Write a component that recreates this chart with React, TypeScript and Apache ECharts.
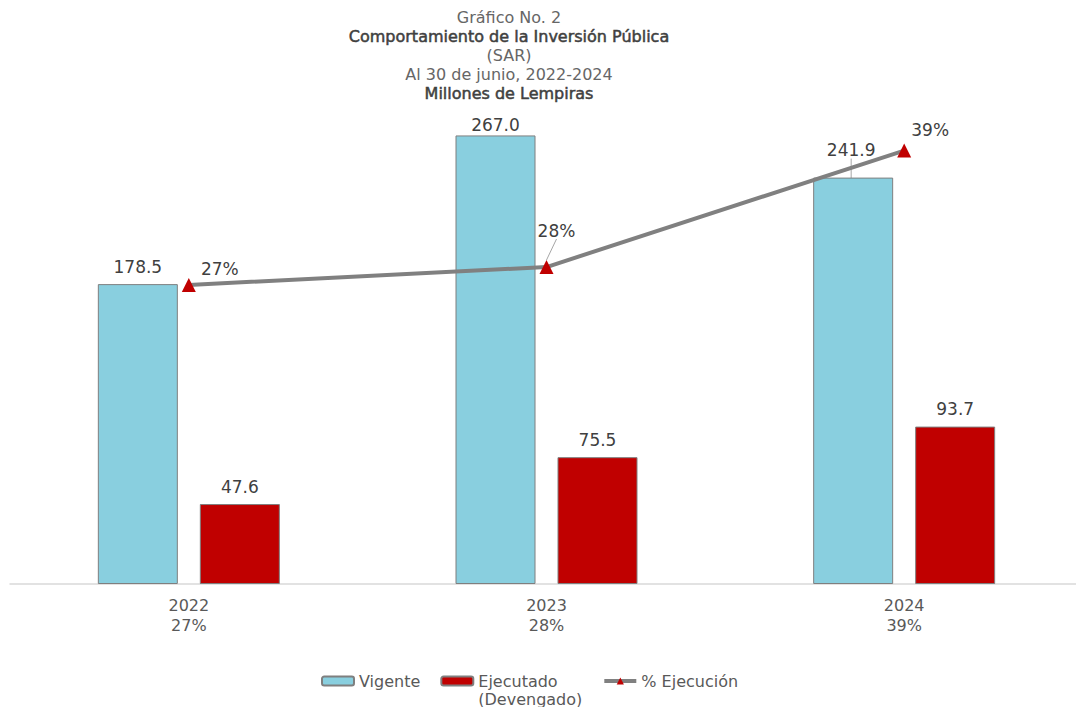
import React, { useEffect, useRef } from "react";
import * as echarts from "echarts";

const years = ["2022", "2023", "2024"];
const vigente = [178.5, 267.0, 241.9];
const ejecutado = [47.6, 75.5, 93.7];
const ejecucionPct = [26.7, 28.3, 38.7];

const FONT = "'DejaVu Sans', 'Noto Sans', sans-serif";
const EJEC_NAME = "Ejecutado\n(Devengado)";

export default function App() {
  const ref = useRef<HTMLDivElement>(null);
  useEffect(() => {
    if (!ref.current) return;
    const chart = echarts.init(ref.current, undefined, { renderer: "svg" });
    const pctText = (v: number) => Math.round(v) + "%";
    const vigMoves = [
      { dx: 0, dy: 0 },
      { dx: 0, dy: 7 },
      { dx: -2, dy: -10 },
    ];
    const vigGuide = [false, false, true];
    const pctMoves = [
      { dx: 31, dy: 5 },
      { dx: 10, dy: -16 },
      { dx: 26, dy: 0 },
    ];
    const pctGuide = [false, true, false];
    const guideStyle = { color: "#A6A6A6", width: 1 };
    chart.setOption({
      animation: false,
      textStyle: { fontFamily: FONT },
      title: {
        left: 504,
        top: 3,
        textAlign: "center",
        text:
          "{a|Gráfico No. 2}\n{b|Comportamiento de la Inversión Pública}\n{a|(SAR)}\n{a|Al 30 de junio, 2022-2024}\n{b|Millones de Lempiras}",
        textStyle: {
          fontWeight: "normal",
          rich: {
            a: { fontSize: 16, color: "#666666", fontWeight: "normal", lineHeight: 19, fontFamily: FONT },
            b: {
              fontSize: 16,
              color: "#404040",
              fontWeight: "normal",
              lineHeight: 19,
              fontFamily: FONT,
              textBorderColor: "#404040",
              textBorderWidth: 0.5,
            },
          },
        },
      },
      grid: { left: 10, right: 0, top: 80, bottom: 123 },
      legend: {
        left: 316,
        top: 649,
        itemWidth: 32,
        itemHeight: 9,
        itemGap: 20,
        textStyle: { fontSize: 16, color: "#595959", fontFamily: FONT, lineHeight: 18 },
        formatter: (name: string) => (name === EJEC_NAME ? "\u00a0\n" + name : name),
        data: [
          { name: "Vigente" },
          { name: EJEC_NAME },
          { name: "% Ejecución", lineStyle: { width: 4 } },
        ],
      },
      xAxis: {
        type: "category",
        data: years,
        axisLine: { lineStyle: { color: "#D9D9D9", width: 1.5 } },
        axisTick: { show: false },
        axisLabel: {
          margin: 11,
          fontSize: 16,
          lineHeight: 20,
          color: "#595959",
          formatter: (v: string, i: number) => v + "\n" + pctText(ejecucionPct[i]),
        },
      },
      yAxis: [
        { type: "value", min: 0, max: 300, show: false },
        { type: "value", min: 0, max: 45, show: false },
      ],
      series: [
        {
          name: "Vigente",
          type: "bar",
          barWidth: 80,
          barGap: "27.5%",
          itemStyle: { color: "#89CFDF", borderColor: "#7F7F7F", borderWidth: 1 },
          label: {
            show: true,
            position: "top",
            distance: 9,
            fontSize: 17,
            color: "#404040",
            formatter: (p: any) => p.value.toFixed(1),
          },
          labelLine: { show: false, lineStyle: guideStyle },
          labelLayout: (p: any) => vigMoves[p.dataIndex],
          data: vigente.map((v, i) => ({
            value: v,
            labelLine: { show: vigGuide[i], lineStyle: guideStyle },
          })),
        },
        {
          name: EJEC_NAME,
          type: "bar",
          barWidth: 80,
          itemStyle: { color: "#C00000", borderColor: "#7F7F7F", borderWidth: 1 },
          label: {
            show: true,
            position: "top",
            distance: 9,
            fontSize: 17,
            color: "#404040",
            formatter: (p: any) => p.value.toFixed(1),
          },
          data: ejecutado,
        },
        {
          name: "% Ejecución",
          type: "line",
          yAxisIndex: 1,
          symbol: "triangle",
          symbolSize: 14,
          lineStyle: { color: "#808080", width: 4 },
          itemStyle: { color: "#C00000" },
          z: 5,
          label: {
            show: true,
            position: "top",
            fontSize: 17,
            color: "#404040",
            formatter: (p: any) => pctText(p.value),
          },
          labelLine: { show: false, lineStyle: guideStyle },
          labelLayout: (p: any) => pctMoves[p.dataIndex],
          data: ejecucionPct.map((v, i) => ({
            value: v,
            labelLine: { show: pctGuide[i], lineStyle: guideStyle },
          })),
        },
      ],
    });
    return () => chart.dispose();
  }, []);
  return (
    <div
      style={{
        position: "fixed",
        left: 0,
        top: 0,
        width: 1076,
        height: 707,
        overflow: "hidden",
        background: "#fff",
      }}
    >
      <div ref={ref} style={{ width: 1083, height: 707 }} />
    </div>
  );
}
